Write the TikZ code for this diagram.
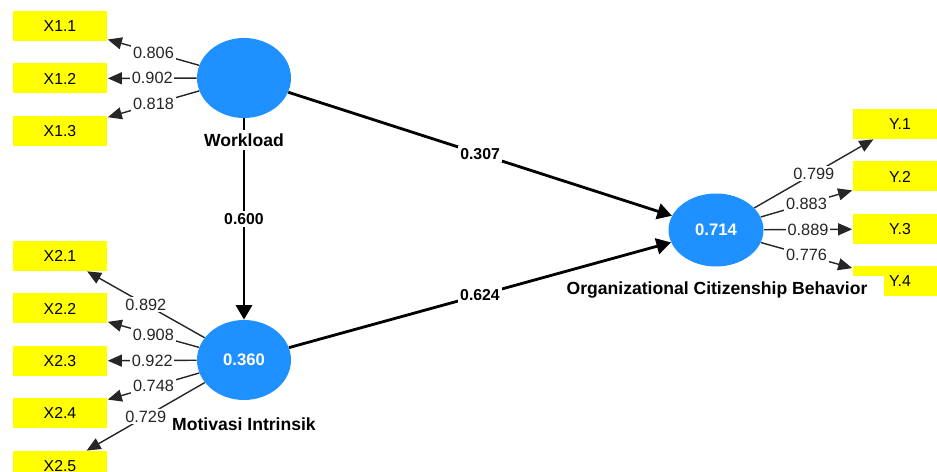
\documentclass[tikz,border=0pt]{standalone}
\usepackage{fontspec}
\setmainfont{Liberation Sans}
\usepackage{xcolor}
\usepackage{tikz}
\usetikzlibrary{shapes.geometric, arrows.meta}
\definecolor{plsblue}{RGB}{30,144,255}
\definecolor{plsyellow}{RGB}{255,255,0}
\tikzstyle{indicator} = [rectangle, minimum width=1.9cm, minimum height=0.6cm, text centered, fill=plsyellow, font=\fontsize{9}{11}\selectfont]
\tikzstyle{construct} = [ellipse, minimum width=1.88cm, minimum height=1.6cm, inner sep=0pt, fill=plsblue, text=white, font=\bfseries\fontsize{9.5}{11}\selectfont]
\tikzstyle{cname} = [fill=white, inner sep=2pt, font=\bfseries\fontsize{10}{12}\selectfont]
\tikzstyle{loading} = [line width=0.8pt, draw=black!85, -{Triangle[length=2.8mm, width=2.4mm]}]
\tikzstyle{weight} = [fill=white, inner sep=1pt, text=black!85, font=\fontsize{9.3}{11}\selectfont]
\tikzstyle{effect} = [line width=1.6pt, -{Triangle[length=2.9mm, width=3.2mm]}]
\tikzstyle{coef} = [fill=white, inner sep=1.5pt, font=\bfseries\fontsize{9}{11}\selectfont]

\begin{document}
\begin{tikzpicture}[x=0.02cm, y=-0.02cm, node distance=1.05cm]
		
		\useasboundingbox (0,0) rectangle (937,472);
		\clip (0,0) rectangle (937,472);
		
		\node (Workload) [construct] at (244,78) {};
		\node (Motivasi) [construct] at (244,360) {0.360};
		\node (OCB) [construct, minimum width=1.9cm, minimum height=1.46cm] at (716,230) {0.714};
		
		\node (X11) [indicator] at (60,26) {X1.1};
		\node (X12) [indicator, below of=X11] {X1.2};
		\node (X13) [indicator, below of=X12] {X1.3};
		
		\node (X21) [indicator] at (60,256) {X2.1};
		\node (X22) [indicator, below of=X21] {X2.2};
		\node (X23) [indicator, below of=X22] {X2.3};
		\node (X24) [indicator, below of=X23] {X2.4};
		\node (X25) [indicator, below of=X24] {X2.5};
		
		\node (Y1) [indicator] at (900,124) {Y.1};
		\node (Y2) [indicator, below of=Y1] {Y.2};
		\node (Y3) [indicator, below of=Y2] {Y.3};
		\node (Y4) [indicator, below of=Y3] {Y.4};
		
		\node (OCBName) [cname, inner xsep=0.34cm, inner ysep=3pt] at (717,290) {Organizational Citizenship Behavior};
		
		\draw [loading] (Workload) -- node[weight] {0.806} (X11);
		\draw [loading] (Workload) -- node[weight] {0.902} (X12);
		\draw [loading] (Workload) -- node[weight] {0.818} (X13);
		
		\draw [loading] (Motivasi) -- node[weight] {0.892} (X21);
		\draw [loading] (Motivasi) -- node[weight] {0.908} (X22);
		\draw [loading] (Motivasi) -- node[weight] {0.922} (X23);
		\draw [loading] (Motivasi) -- node[weight] {0.748} (X24);
		\draw [loading] (Motivasi) -- node[weight] {0.729} (X25);
		
		\draw [loading] (OCB) -- node[weight] {0.799} (Y1);
		\draw [loading] (OCB) -- node[weight] {0.883} (Y2);
		\draw [loading] (OCB) -- node[weight] {0.889} (Y3);
		\draw [loading] (OCB) -- node[weight] {0.776} (Y4);
		
		\draw [effect] (Workload) -- node[coef] {0.600} (Motivasi);
		\draw [effect] (Workload) -- node[coef] {0.307} (OCB);
		\draw [effect] (Motivasi) -- node[coef] {0.624} (OCB);
		
		\node (WorkloadName) [cname] at (244,140) {Workload};
		\node (MotivasiName) [cname] at (244,424) {Motivasi Intrinsik};
	\end{tikzpicture}
\end{document}
